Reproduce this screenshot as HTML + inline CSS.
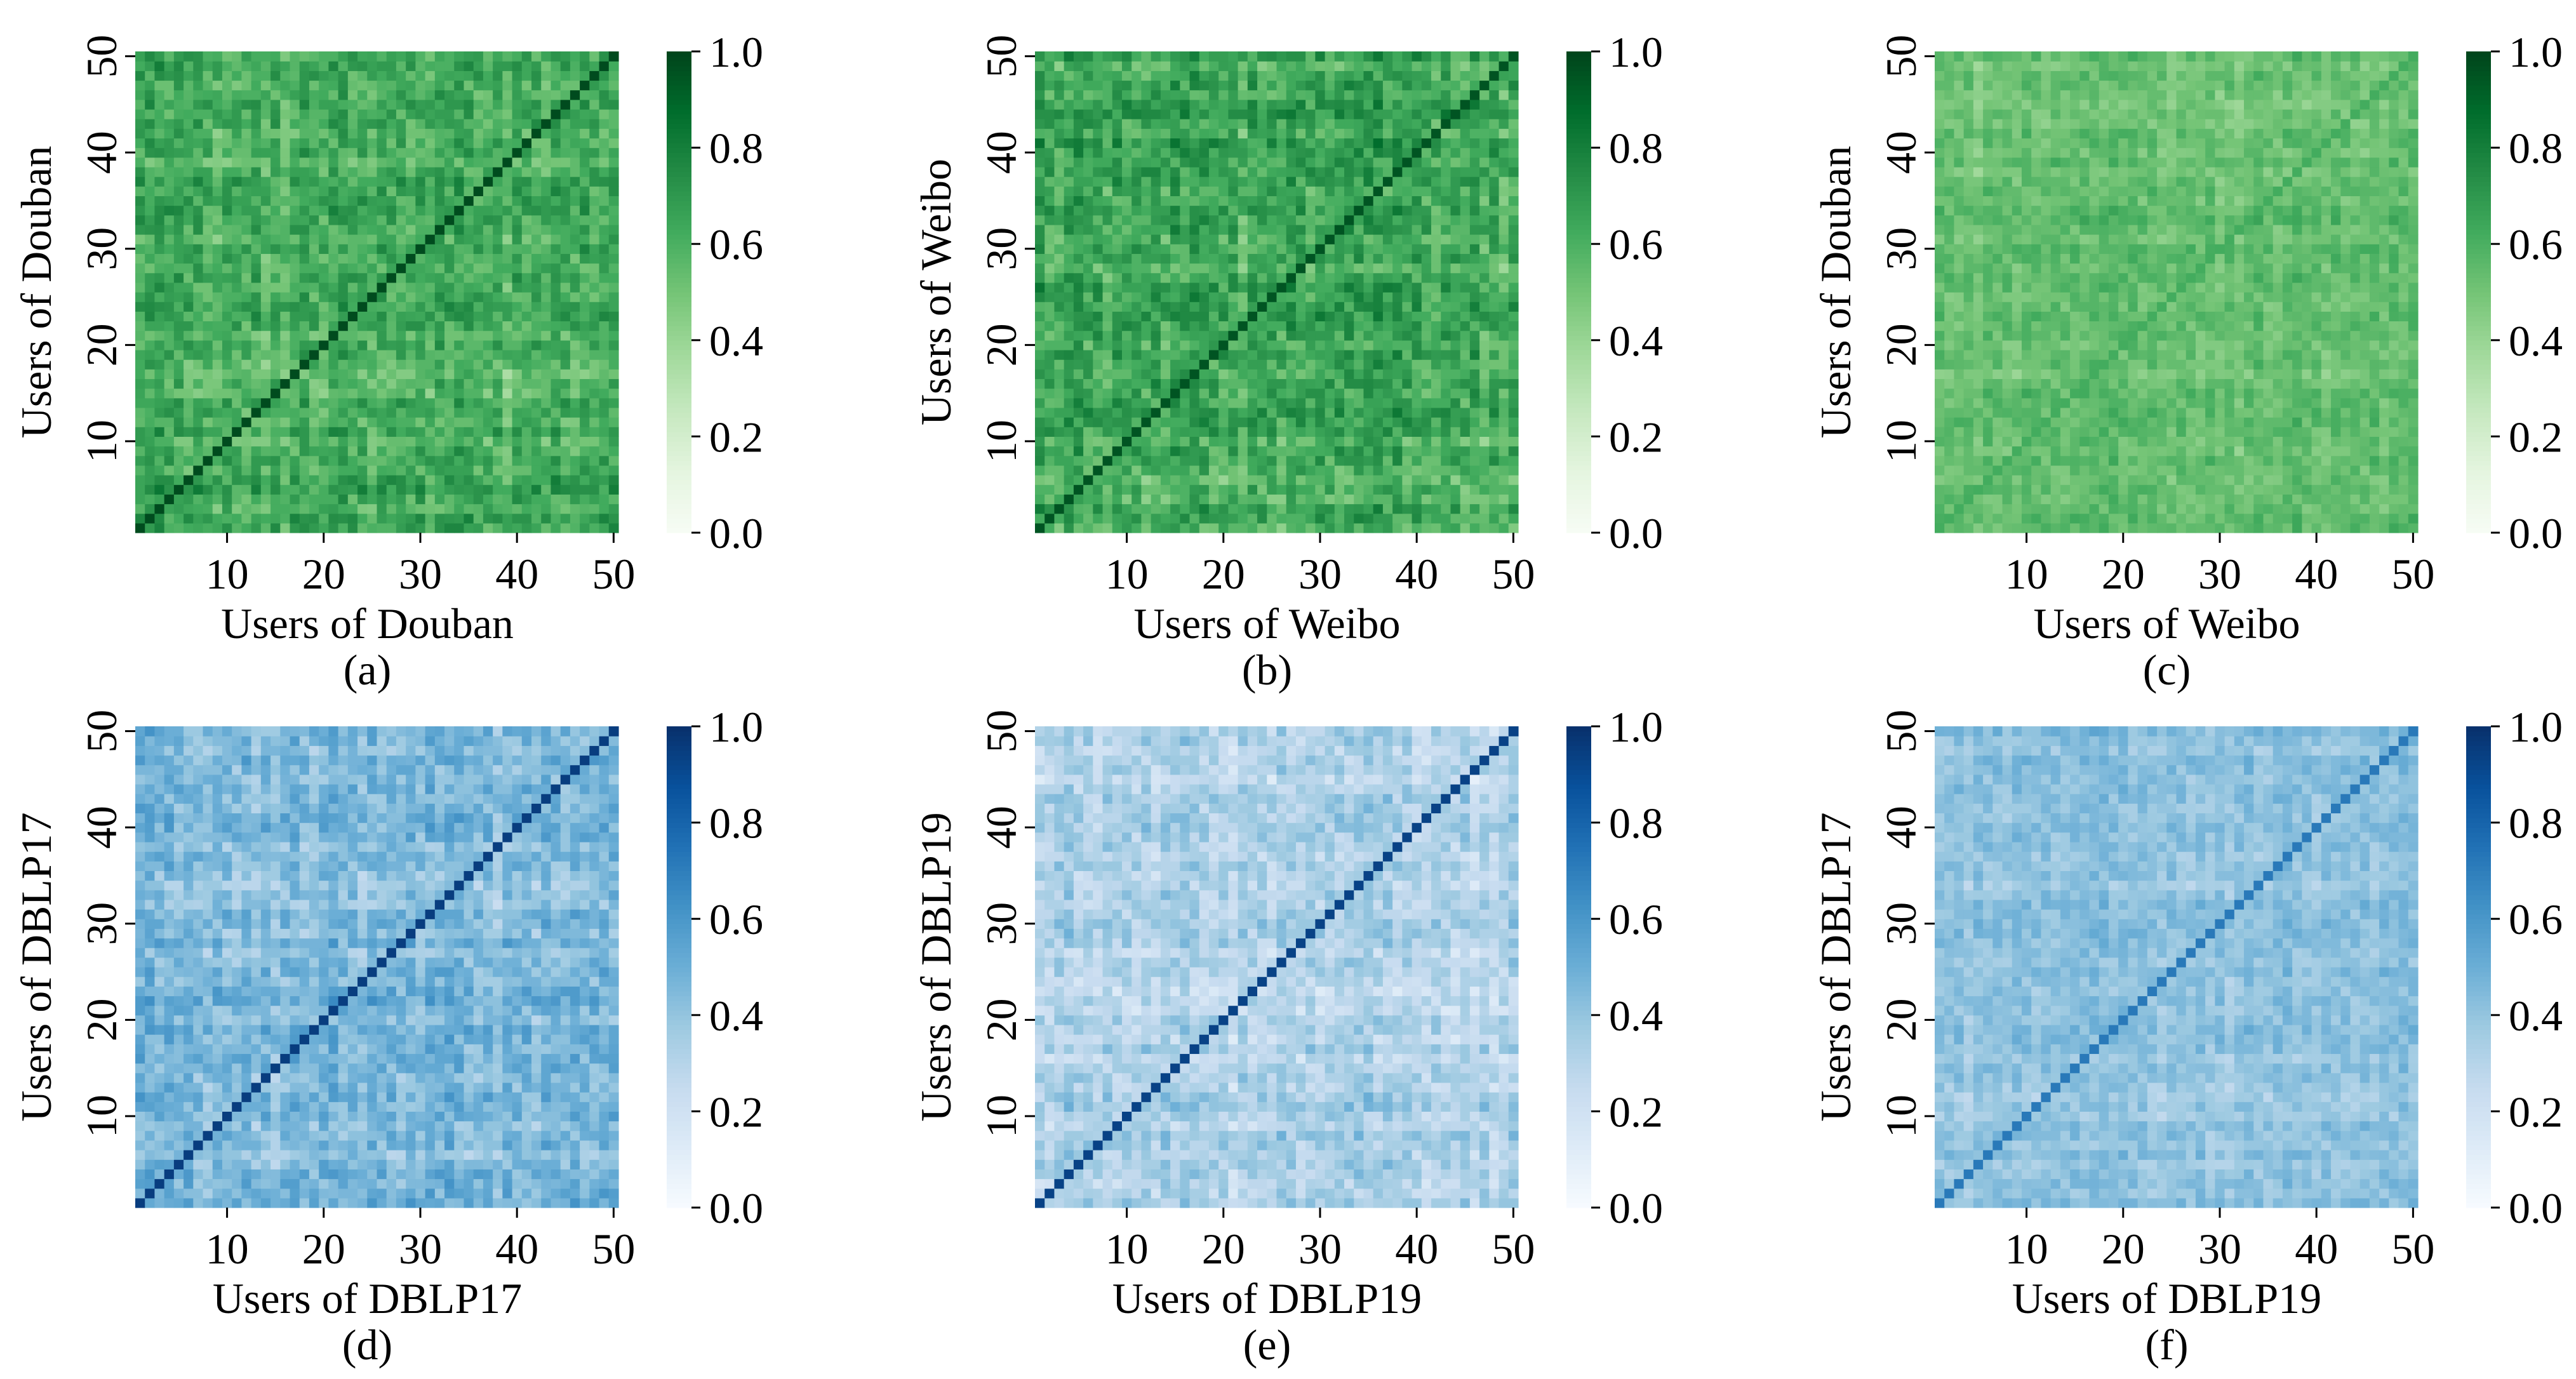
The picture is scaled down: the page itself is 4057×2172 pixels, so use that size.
<!DOCTYPE html>
<html><head><meta charset="utf-8"><style>
html,body{margin:0;padding:0;background:#fff}
svg{display:block}
text{font-family:"Liberation Serif",serif;fill:#000}
</style></head><body>
<svg id="fig" width="4057" height="2172" viewBox="0 0 4057 2172" xmlns="http://www.w3.org/2000/svg"></svg>
<script>
// ---- data ----
const panelIds = ['a','b','c','d','e','f'];
const xLabels = ['Users of Douban','Users of Weibo','Users of Weibo','Users of DBLP17','Users of DBLP19','Users of DBLP19'];
const yLabels = ['Users of Douban','Users of Weibo','Users of Douban','Users of DBLP17','Users of DBLP19','Users of DBLP17'];
const cmaps = ['greens','greens','greens','blues','blues','blues'];
const baseLevel = [0.60, 0.62, 0.52, 0.44, 0.30, 0.40];
const spread = [0.13, 0.14, 0.08, 0.12, 0.12, 0.08];
const diagValue = [0.98, 0.95, 0.62, 0.95, 0.93, 0.72];
const tickLabels = ['10','20','30','40','50'];
const tickValues = [10,20,30,40,50];
const cbTicks = [0.0,0.2,0.4,0.6,0.8,1.0];
const cbTickLabels = ['0.0','0.2','0.4','0.6','0.8','1.0'];
const rowTex = [0.3,0.5,-0.2,0.1,0.6,0.4,-0.1,0.2,0.0,-0.4,0.3,-0.3,0.1,0.2,-0.5,-0.2,-0.6,-0.3,0.0,0.1,-0.4,0.2,0.3,0.4,0.1,0.0,0.2,-0.1,0.0,0.3,-0.2,0.1,0.2,0.4,0.3,0.2,0.4,0.0,-0.5,0.1,0.0,-0.2,0.2,0.1,0.3,0.0,-0.1,0.2,0.3,0.1];
const colTex = [0.2,0.3,0.4,0.1,0.3,0.0,0.2,-0.1,-0.3,0.1,0.0,-0.2,0.2,-0.4,0.1,-0.5,0.0,0.3,-0.1,-0.2,0.2,0.4,0.0,0.1,-0.3,0.2,0.0,0.1,-0.1,0.2,-0.2,0.3,0.1,0.4,0.2,0.0,-0.1,0.1,-0.5,0.2,0.0,0.1,-0.2,0.3,0.1,-0.1,0.2,0.0,0.1,0.2];
const cellTex = [0.4,-0.6,0.1,0.8,-0.3,0.2,-0.9,0.5,0.0,-0.2,0.7,-0.5,0.3,-0.1,0.9,-0.7,0.2,0.1,-0.4,0.6,-0.8,0.0,0.4,-0.3,0.5,-0.6,0.8,-0.2,0.1,-0.9,0.3,0.6,-0.1,-0.5,0.7,0.2,-0.4,0.0,0.9,-0.7,0.1,0.5,-0.3,-0.8,0.4,0.2,-0.6,0.6,0.0,-0.2,0.3,-0.4,0.8];

// ---- colormaps ----
const CM = {
 greens:['#f7fcf5','#e5f5e0','#c7e9c0','#a1d99b','#74c476','#41ab5d','#238b45','#006d2c','#00441b'],
 blues:['#f7fbff','#deebf7','#c6dbef','#9ecae1','#6baed6','#4292c6','#2171b5','#08519c','#08306b']
};
function hex(h){return [1,3,5].map(i=>parseInt(h.substr(i,2),16));}
function cmap(name,v){
  v=Math.max(0,Math.min(1,v)); const s=CM[name]; const p=v*(s.length-1);
  const i=Math.min(s.length-2,Math.floor(p)), t=p-i;
  const a=hex(s[i]), b=hex(s[i+1]);
  return 'rgb('+a.map((c,k)=>Math.round(c+(b[k]-c)*t)).join(',')+')';
}
function cellValue(k,i,j){
  if(i===j) return diagValue[k];
  return baseLevel[k]+spread[k]*(rowTex[(i+k*11)%50]+colTex[(j+k*17)%50]+cellTex[(i*31+j*17+k*5)%53]);
}

const NS='http://www.w3.org/2000/svg';
const svg=document.getElementById('fig');
function mk(tag,attrs,parent){const e=document.createElementNS(NS,tag);for(const a in attrs)e.setAttribute(a,attrs[a]);(parent||svg).appendChild(e);return e;}

const colOff=[0,1417,2834], rowOff=[0,1063];
const HX=213, HY=81, HW=761, HH=758, N=50;
const CBX=1050, CBW=39;

panelIds.forEach((pid,k)=>{
  const ox=colOff[k%3], oy=rowOff[Math.floor(k/3)];
  const g=mk('g',{transform:'translate('+ox+','+oy+')'});
  
  
  const xs=v=>HX+(v-0.5)*HW/N; // label v at cell center (v-1)+0.5
  const ys=v=>HY+HH-(v-0.5)*HH/N;
  const hm=mk('g',{},g);
  
  
  const cw=HW/N, ch=HH/N;
  for(let i=0;i<N;i++)for(let j=0;j<N;j++){
    const r=mk('rect',{x:(HX+j*cw).toFixed(2),y:(HY+HH-(i+1)*ch).toFixed(2),width:(cw+0.6).toFixed(2),height:(ch+0.6).toFixed(2),fill:cmap(cmaps[k],cellValue(k,i,j))},hm);
    
    
  }
  // ticks
  tickValues.forEach((tv,ti)=>{
    const x=xs(tv);
    mk('line',{x1:x,y1:HY+HH,x2:x,y2:HY+HH+16,stroke:'#000','stroke-width':3},g);
    const t=mk('text',{x:x,y:HY+HH+88,'font-size':68,'text-anchor':'middle'},g);
    t.textContent=tickLabels[ti];
    
    
    const y=ys(tv);
    mk('line',{x1:HX,y1:y,x2:HX-16,y2:y,stroke:'#000','stroke-width':3},g);
    const t2=mk('text',{x:0,y:0,'font-size':68,'text-anchor':'middle',transform:'translate('+(HX-30)+','+y+') rotate(-90)'},g);
    t2.textContent=tickLabels[ti];
    
    
  });
  const xl=mk('text',{x:(HX+HW/2-15),y:1005,'font-size':68,'text-anchor':'middle'},g);
  xl.textContent=xLabels[k];
  
  
  const cap=mk('text',{x:(HX+HW/2-15),y:1078,'font-size':68,'text-anchor':'middle'},g);
  cap.textContent='('+pid+')';
  
  
  const yl=mk('text',{x:0,y:0,'font-size':68,'text-anchor':'middle',transform:'translate(80,'+(HY+HH/2)+') rotate(-90)'},g);
  yl.textContent=yLabels[k];
  
  
  // colorbar
  const cb=mk('g',{},g);
  
  
  const steps=100;
  for(let s=0;s<steps;s++){
    mk('rect',{x:CBX,y:(HY+HH-(s+1)*HH/steps).toFixed(2),width:CBW,height:(HH/steps+0.6).toFixed(2),fill:cmap(cmaps[k],(s+0.5)/steps)},cb);
  }
  cbTicks.forEach((v,ti)=>{
    const y=HY+HH-v*HH;
    mk('line',{x1:CBX+CBW,y1:y,x2:CBX+CBW+14,y2:y,stroke:'#000','stroke-width':3},cb);
    const t=mk('text',{x:CBX+CBW+28,y:y+24,'font-size':68},cb);
    t.textContent=cbTickLabels[ti];
    
    
  });
});
</script>
</body></html>
